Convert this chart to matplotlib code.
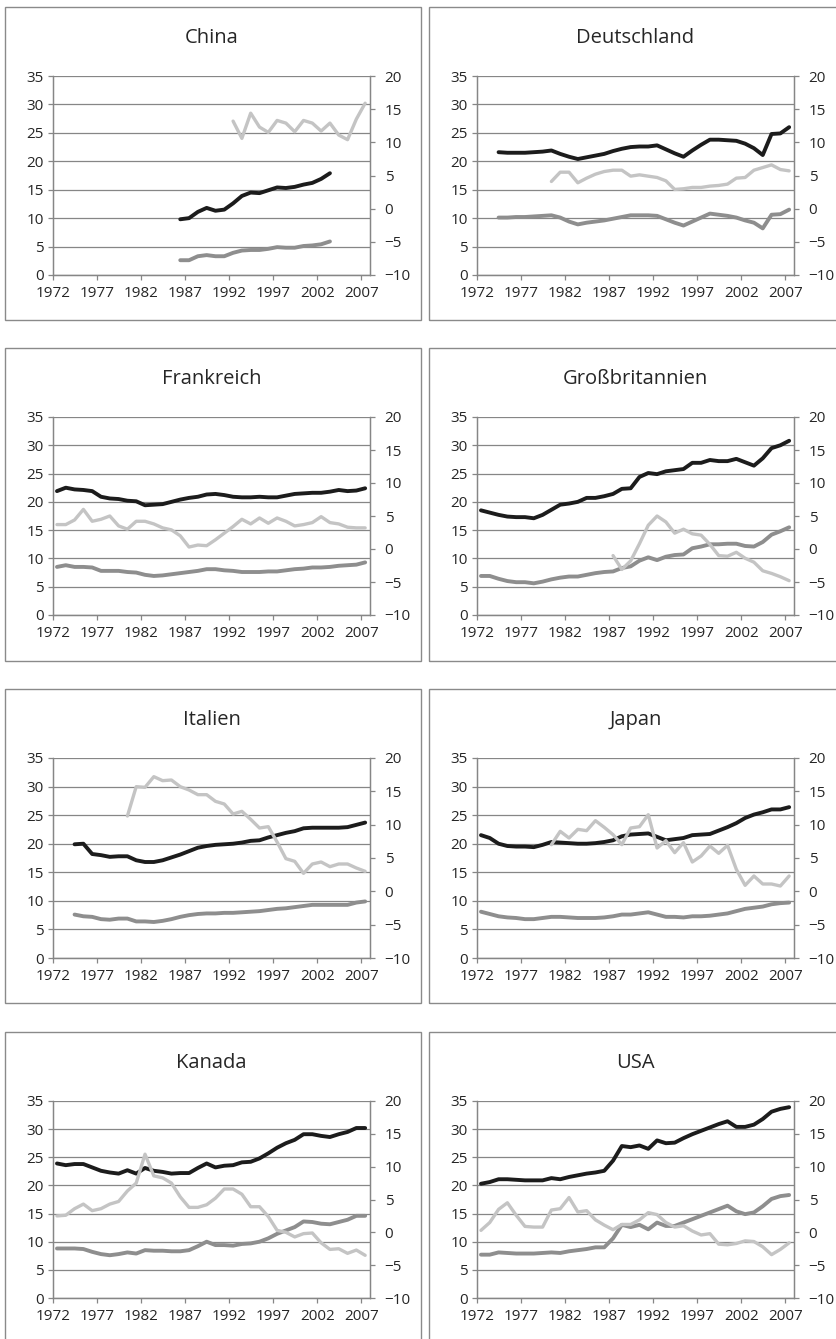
import numpy as np
import matplotlib.pyplot as plt
from matplotlib.patches import Rectangle

plt.rcParams['font.family'] = ['Open Sans', 'DejaVu Sans']

# --- data ---
# series_a: black line, left axis; series_b: dark grey, left axis;
# series_c: light grey, right axis
countries = ['China', 'Deutschland', 'Frankreich', 'Großbritannien',
             'Italien', 'Japan', 'Kanada', 'USA']

china_a_start = 1986
china_a = [9.8, 10.0, 11.1, 11.8, 11.3, 11.5, 12.6, 13.9, 14.5, 14.4, 14.9,
           15.4, 15.3, 15.5, 15.9, 16.2, 16.9, 17.9]
china_b = [2.6, 2.6, 3.3, 3.5, 3.3, 3.3, 3.9, 4.3, 4.4, 4.4, 4.6, 4.9, 4.8,
           4.8, 5.1, 5.2, 5.4, 5.9]
china_c_start = 1992
china_c = [13.2, 10.6, 14.4, 12.3, 11.5, 13.3, 12.9, 11.6, 13.3, 12.9, 11.7,
           12.9, 11.1, 10.4, 13.5, 15.9]

deu_a_start = 1974
deu_a = [21.6, 21.5, 21.5, 21.5, 21.6, 21.7, 21.9, 21.3, 20.8, 20.4, 20.7,
         21.0, 21.3, 21.8, 22.2, 22.5, 22.6, 22.6, 22.8, 22.1, 21.4, 20.8,
         21.9, 22.9, 23.8, 23.8, 23.7, 23.6, 23.1, 22.3, 21.1, 24.8, 24.9, 26.0]
deu_b = [10.1, 10.1, 10.2, 10.2, 10.3, 10.4, 10.5, 10.1, 9.4, 8.9, 9.2, 9.4,
         9.6, 9.9, 10.2, 10.5, 10.5, 10.5, 10.4, 9.8, 9.2, 8.7, 9.4, 10.1,
         10.8, 10.6, 10.4, 10.1, 9.6, 9.2, 8.2, 10.6, 10.7, 11.5]
deu_c_start = 1980
deu_c = [4.1, 5.5, 5.5, 3.9, 4.6, 5.2, 5.6, 5.8, 5.8, 4.9, 5.1, 4.9, 4.7, 4.2,
         2.9, 3.0, 3.2, 3.2, 3.4, 3.5, 3.7, 4.6, 4.7, 5.8, 6.2, 6.6, 5.9, 5.7]

fra_a_start = 1972
fra_a = [21.9, 22.5, 22.2, 22.1, 21.9, 20.9, 20.6, 20.5, 20.2, 20.1, 19.4,
         19.5, 19.6, 20.0, 20.4, 20.7, 20.9, 21.3, 21.4, 21.2, 20.9, 20.8,
         20.8, 20.9, 20.8, 20.8, 21.1, 21.4, 21.5, 21.6, 21.6, 21.8, 22.1,
         21.9, 22.0, 22.4]
fra_b = [8.5, 8.8, 8.5, 8.5, 8.4, 7.8, 7.8, 7.8, 7.6, 7.5, 7.1, 6.9, 7.0, 7.2,
         7.4, 7.6, 7.8, 8.1, 8.1, 7.9, 7.8, 7.6, 7.6, 7.6, 7.7, 7.7, 7.9, 8.1,
         8.2, 8.4, 8.4, 8.5, 8.7, 8.8, 8.9, 9.3]
fra_c_start = 1972
fra_c = [3.7, 3.7, 4.4, 6.0, 4.2, 4.5, 5.0, 3.5, 3.0, 4.2, 4.2, 3.8, 3.2, 2.9,
         2.0, 0.3, 0.6, 0.5, 1.4, 2.4, 3.4, 4.5, 3.8, 4.7, 3.9, 4.7, 4.2, 3.5,
         3.7, 4.0, 4.9, 4.0, 3.8, 3.3, 3.2, 3.2]

gbr_a_start = 1972
gbr_a = [18.5, 18.1, 17.7, 17.4, 17.3, 17.3, 17.1, 17.7, 18.6, 19.5, 19.7,
         20.0, 20.7, 20.7, 21.0, 21.4, 22.3, 22.4, 24.4, 25.1, 24.9, 25.4,
         25.6, 25.8, 26.9, 26.9, 27.4, 27.2, 27.2, 27.6, 27.0, 26.4, 27.7,
         29.5, 30.0, 30.8]
gbr_b = [6.9, 6.9, 6.4, 6.0, 5.8, 5.8, 5.6, 5.9, 6.3, 6.6, 6.8, 6.8, 7.1, 7.4,
         7.6, 7.7, 8.3, 8.6, 9.6, 10.2, 9.7, 10.3, 10.6, 10.7, 11.8, 12.1,
         12.5, 12.5, 12.6, 12.6, 12.2, 12.1, 12.9, 14.2, 14.8, 15.5]
gbr_c_start = 1987
gbr_c = [-1.0, -3.1, -1.8, 0.8, 3.6, 5.0, 4.1, 2.4, 3.0, 2.3, 2.1, 0.7, -1.0,
         -1.1, -0.5, -1.4, -2.0, -3.3, -3.7, -4.2, -4.8]

ita_a_start = 1974
ita_a = [19.9, 20.0, 18.2, 18.0, 17.7, 17.8, 17.8, 17.1, 16.8, 16.8, 17.1,
         17.6, 18.1, 18.7, 19.3, 19.6, 19.8, 19.9, 20.0, 20.2, 20.5, 20.6,
         21.1, 21.5, 21.9, 22.2, 22.7, 22.8, 22.8, 22.8, 22.8, 22.9, 23.3, 23.7]
ita_b = [7.6, 7.3, 7.2, 6.8, 6.7, 6.9, 6.9, 6.4, 6.4, 6.3, 6.5, 6.8, 7.2, 7.5,
         7.7, 7.8, 7.8, 7.9, 7.9, 8.0, 8.1, 8.2, 8.4, 8.6, 8.7, 8.9, 9.1, 9.3,
         9.3, 9.3, 9.3, 9.3, 9.7, 9.9]
ita_c_start = 1980
ita_c = [11.3, 15.7, 15.6, 17.2, 16.6, 16.7, 15.7, 15.2, 14.5, 14.5, 13.5,
         13.1, 11.6, 12.0, 10.8, 9.5, 9.7, 7.4, 4.9, 4.5, 2.7, 4.1, 4.4, 3.7,
         4.1, 4.1, 3.5, 3.0]

jpn_a_start = 1972
jpn_a = [21.5, 21.0, 20.0, 19.6, 19.5, 19.5, 19.4, 19.8, 20.3, 20.2, 20.1,
         20.0, 20.0, 20.1, 20.3, 20.6, 21.3, 21.6, 21.7, 21.8, 21.2, 20.6,
         20.8, 21.0, 21.5, 21.6, 21.7, 22.3, 22.9, 23.6, 24.5, 25.1, 25.5,
         26.0, 26.0, 26.4]
jpn_b = [8.1, 7.7, 7.3, 7.1, 7.0, 6.8, 6.8, 7.0, 7.2, 7.2, 7.1, 7.0, 7.0, 7.0,
         7.1, 7.3, 7.6, 7.6, 7.8, 8.0, 7.6, 7.2, 7.2, 7.1, 7.3, 7.3, 7.4, 7.6,
         7.8, 8.2, 8.6, 8.8, 9.0, 9.4, 9.6, 9.7]
jpn_c_start = 1980
jpn_c = [7.0, 9.0, 8.0, 9.3, 9.1, 10.6, 9.6, 8.5, 7.0, 9.5, 9.7, 11.5, 6.5,
         7.6, 5.8, 7.3, 4.4, 5.3, 6.8, 5.7, 6.9, 3.3, 0.9, 2.3, 1.1, 1.1, 0.8,
         2.3]

can_a_start = 1972
can_a = [23.9, 23.6, 23.8, 23.8, 23.2, 22.6, 22.3, 22.1, 22.7, 22.1, 23.1,
         22.6, 22.4, 22.1, 22.2, 22.2, 23.1, 23.9, 23.2, 23.5, 23.6, 24.1,
         24.2, 24.8, 25.7, 26.7, 27.5, 28.1, 29.1, 29.1, 28.8, 28.6, 29.1,
         29.5, 30.2, 30.2]
can_b = [8.8, 8.8, 8.8, 8.7, 8.2, 7.8, 7.6, 7.8, 8.1, 7.9, 8.5, 8.4, 8.4, 8.3,
         8.3, 8.5, 9.2, 10.0, 9.4, 9.4, 9.3, 9.6, 9.7, 10.0, 10.6, 11.4, 12.0,
         12.6, 13.6, 13.5, 13.2, 13.1, 13.5, 13.9, 14.6, 14.6]
can_c_start = 1972
can_c = [2.5, 2.6, 3.6, 4.3, 3.3, 3.6, 4.3, 4.7, 6.3, 7.5, 11.9, 8.6, 8.3, 7.5,
         5.4, 3.8, 3.8, 4.2, 5.2, 6.6, 6.6, 5.8, 3.9, 3.9, 2.4, 0.3, 0.0, -0.7,
         -0.2, -0.1, -1.6, -2.6, -2.5, -3.2, -2.7, -3.5]

usa_a_start = 1972
usa_a = [20.3, 20.6, 21.1, 21.1, 21.0, 20.9, 20.9, 20.9, 21.3, 21.1, 21.5,
         21.8, 22.1, 22.3, 22.6, 24.4, 27.0, 26.8, 27.1, 26.5, 28.0, 27.5,
         27.6, 28.4, 29.1, 29.7, 30.3, 30.9, 31.4, 30.4, 30.4, 30.8, 31.8,
         33.1, 33.6, 33.9]
usa_b = [7.7, 7.7, 8.1, 8.0, 7.9, 7.9, 7.9, 8.0, 8.1, 8.0, 8.3, 8.5, 8.7, 9.0,
         9.0, 10.6, 13.0, 12.6, 13.0, 12.2, 13.4, 12.8, 12.8, 13.4, 14.0, 14.6,
         15.2, 15.8, 16.4, 15.4, 14.9, 15.2, 16.3, 17.6, 18.1, 18.3]
usa_c_start = 1972
usa_c = [0.3, 1.5, 3.5, 4.5, 2.6, 0.9, 0.8, 0.8, 3.4, 3.6, 5.3, 3.1, 3.3, 1.9,
         1.1, 0.4, 1.2, 1.2, 1.9, 3.0, 2.7, 1.5, 0.8, 1.0, 0.2, -0.4, -0.2,
         -1.8, -1.9, -1.7, -1.3, -1.4, -2.2, -3.4, -2.6, -1.6]

panels = [
    (china_a_start, china_a, china_b, china_c_start, china_c),
    (deu_a_start, deu_a, deu_b, deu_c_start, deu_c),
    (fra_a_start, fra_a, fra_b, fra_c_start, fra_c),
    (gbr_a_start, gbr_a, gbr_b, gbr_c_start, gbr_c),
    (ita_a_start, ita_a, ita_b, ita_c_start, ita_c),
    (jpn_a_start, jpn_a, jpn_b, jpn_c_start, jpn_c),
    (can_a_start, can_a, can_b, can_c_start, can_c),
    (usa_a_start, usa_a, usa_b, usa_c_start, usa_c),
]

year_ticks = list(range(1972, 2008, 5))
left_ticks = list(range(0, 36, 5))
right_ticks = list(range(-10, 21, 5))

# --- layout (pixels) ---
W, H = 836, 1339
col_axes = [(53, 370), (477, 794)]
row_axes = [(76, 275), (417, 615), (758, 958), (1101, 1298)]
col_box = [(5, 421), (429, 845)]
row_box = [(7, 320), (348, 661), (689, 1003), (1032, 1345)]

BLACK = '#1c1c1c'
DARK = '#8e8e8e'
LIGHT = '#c4c4c4'
GRID = '#868686'
TXT = '#262626'

fig = plt.figure(figsize=(W / 100, H / 100), dpi=100)

for i, (name, (a0, a, b, c0, c)) in enumerate(zip(countries, panels)):
    r, col = divmod(i, 2)
    x0, x1 = col_axes[col]
    y0, y1 = row_axes[r]
    bx0, bx1 = col_box[col]
    by0, by1 = row_box[r]

    fig.patches.append(Rectangle((bx0 / W, 1 - by1 / H), (bx1 - bx0) / W,
                                 (by1 - by0) / H, transform=fig.transFigure,
                                 fill=False, edgecolor='#8a8a8a', lw=1.0))

    ax = fig.add_axes([x0 / W, 1 - y1 / H, (x1 - x0) / W, (y1 - y0) / H])
    ax2 = ax.twinx()

    ya = np.arange(a0, a0 + len(a)) + 0.45
    yc = np.arange(c0, c0 + len(c)) + 0.45
    ax.plot(ya, a, color=BLACK, lw=2.8, solid_capstyle='round', zorder=3)
    ax.plot(ya, b, color=DARK, lw=2.8, solid_capstyle='round', zorder=3)
    ax2.plot(yc, c, color=LIGHT, lw=2.4, solid_capstyle='round')

    ax.set_xlim(1972, 2008)
    ax.set_ylim(0, 35)
    ax2.set_ylim(-10, 20)
    ax.set_xticks(year_ticks)
    ax.set_yticks(left_ticks)
    ax2.set_yticks(right_ticks)
    ax.yaxis.grid(True, color=GRID, lw=0.9)
    ax.set_axisbelow(True)

    for a_ in (ax, ax2):
        a_.spines['top'].set_visible(False)
        for s in ('left', 'right', 'bottom'):
            a_.spines[s].set_color(GRID)
            a_.spines[s].set_linewidth(0.9)
    ax.tick_params(axis='x', length=3.6, width=0.9, color=GRID, pad=4,
                   labelsize=11, labelcolor=TXT)
    ax.tick_params(axis='y', length=3.6, width=0.9, color=GRID, pad=3,
                   labelsize=11, labelcolor=TXT)
    ax2.tick_params(axis='y', length=3.6, width=0.9, color=GRID, pad=7,
                    labelsize=11, labelcolor=TXT)

    fig.text((x0 + x1) / 2 / W, 1 - (y0 - 38) / H, name, ha='center',
             va='center', fontsize=14.5, color=TXT)

fig.savefig('out.png', dpi=100)
